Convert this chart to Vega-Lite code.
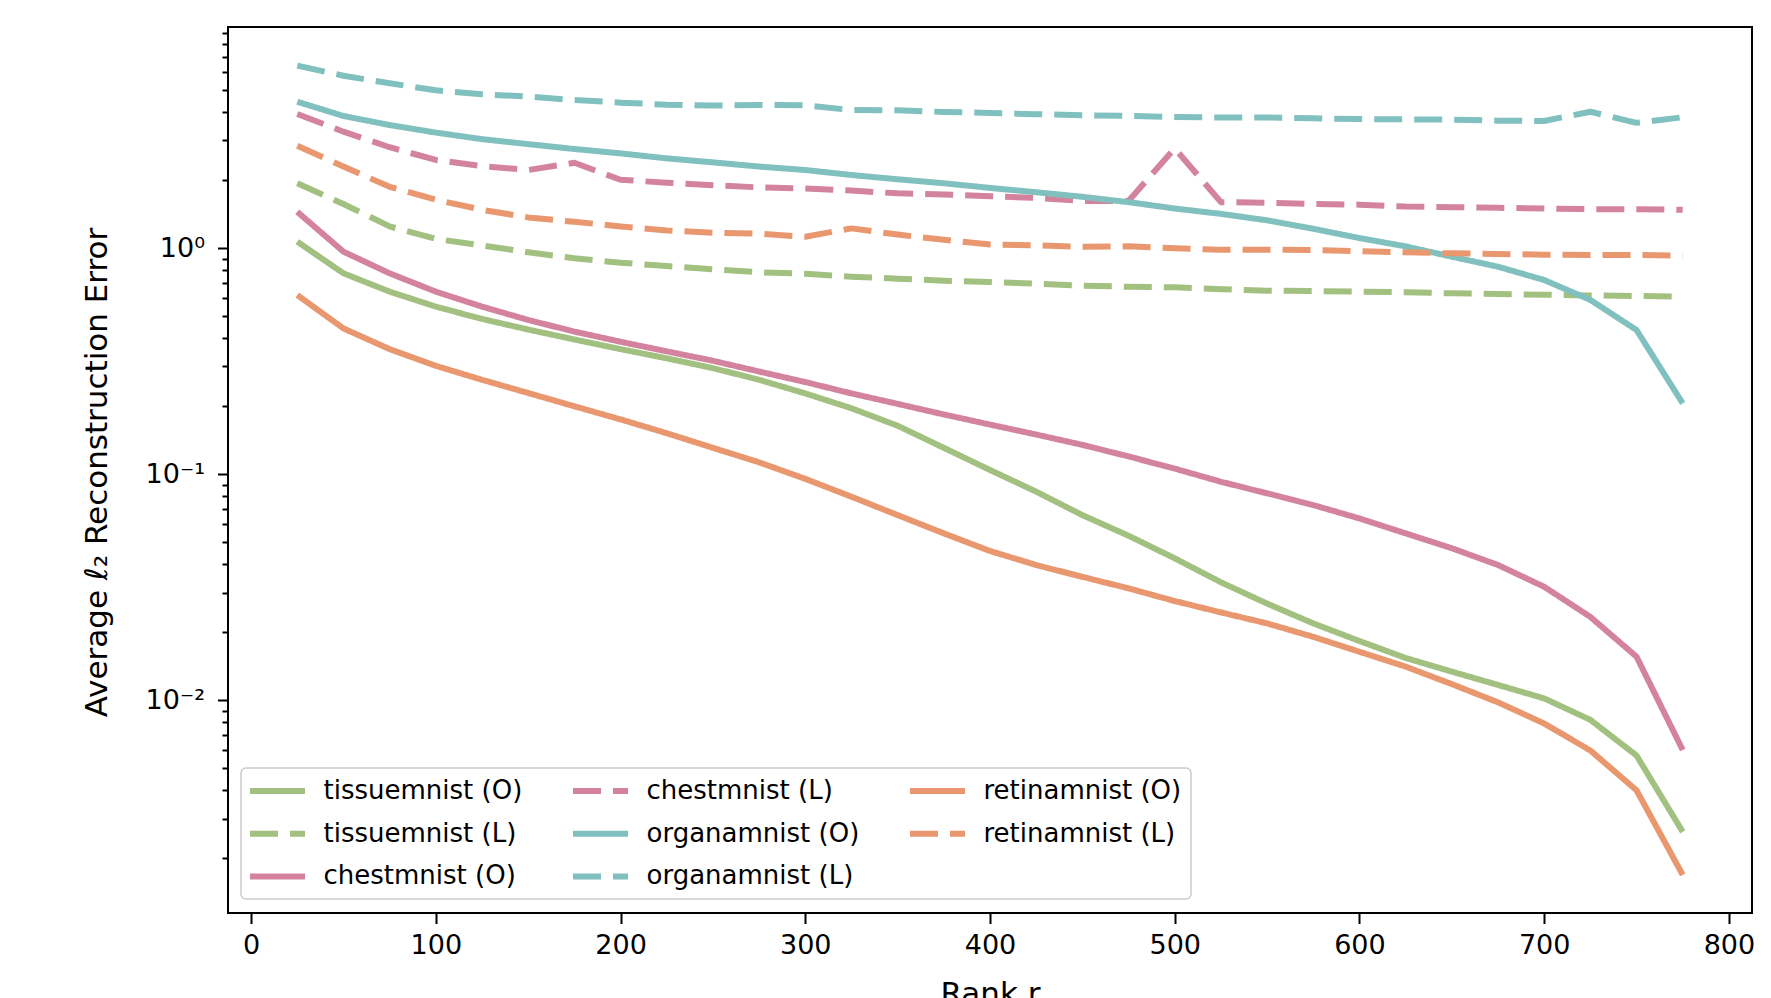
{
  "$schema": "https://vega.github.io/schema/vega-lite/v6.json",
  "autosize": {"type": "none"},
  "padding": {"left": 228, "top": 27, "right": 19, "bottom": 85},
  "width": 1524,
  "height": 886,
  "background": "white",
  "data": {"values": [
    {"r":25,"s":"tissuemnist (O)","e":1.07},{"r":50,"s":"tissuemnist (O)","e":0.775},{"r":75,"s":"tissuemnist (O)","e":0.643},{"r":100,"s":"tissuemnist (O)","e":0.552},{"r":125,"s":"tissuemnist (O)","e":0.487},{"r":150,"s":"tissuemnist (O)","e":0.437},{"r":175,"s":"tissuemnist (O)","e":0.395},{"r":200,"s":"tissuemnist (O)","e":0.358},{"r":225,"s":"tissuemnist (O)","e":0.326},{"r":250,"s":"tissuemnist (O)","e":0.295},{"r":275,"s":"tissuemnist (O)","e":0.262},{"r":300,"s":"tissuemnist (O)","e":0.228},{"r":325,"s":"tissuemnist (O)","e":0.196},{"r":350,"s":"tissuemnist (O)","e":0.164},{"r":375,"s":"tissuemnist (O)","e":0.131},{"r":400,"s":"tissuemnist (O)","e":0.1045},{"r":425,"s":"tissuemnist (O)","e":0.0838},{"r":450,"s":"tissuemnist (O)","e":0.066},{"r":475,"s":"tissuemnist (O)","e":0.0535},{"r":500,"s":"tissuemnist (O)","e":0.0425},{"r":525,"s":"tissuemnist (O)","e":0.0333},{"r":550,"s":"tissuemnist (O)","e":0.0268},{"r":575,"s":"tissuemnist (O)","e":0.0219},{"r":600,"s":"tissuemnist (O)","e":0.0183},{"r":625,"s":"tissuemnist (O)","e":0.0154},{"r":650,"s":"tissuemnist (O)","e":0.0134},{"r":675,"s":"tissuemnist (O)","e":0.0117},{"r":700,"s":"tissuemnist (O)","e":0.0102},{"r":725,"s":"tissuemnist (O)","e":0.0082},{"r":750,"s":"tissuemnist (O)","e":0.0057},{"r":775,"s":"tissuemnist (O)","e":0.00262},
    {"r":25,"s":"tissuemnist (L)","e":1.94},{"r":50,"s":"tissuemnist (L)","e":1.57},{"r":75,"s":"tissuemnist (L)","e":1.25},{"r":100,"s":"tissuemnist (L)","e":1.1},{"r":125,"s":"tissuemnist (L)","e":1.03},{"r":150,"s":"tissuemnist (L)","e":0.96},{"r":175,"s":"tissuemnist (L)","e":0.903},{"r":200,"s":"tissuemnist (L)","e":0.863},{"r":225,"s":"tissuemnist (L)","e":0.835},{"r":250,"s":"tissuemnist (L)","e":0.807},{"r":275,"s":"tissuemnist (L)","e":0.783},{"r":300,"s":"tissuemnist (L)","e":0.772},{"r":325,"s":"tissuemnist (L)","e":0.749},{"r":350,"s":"tissuemnist (L)","e":0.734},{"r":375,"s":"tissuemnist (L)","e":0.719},{"r":400,"s":"tissuemnist (L)","e":0.709},{"r":425,"s":"tissuemnist (L)","e":0.697},{"r":450,"s":"tissuemnist (L)","e":0.683},{"r":475,"s":"tissuemnist (L)","e":0.676},{"r":500,"s":"tissuemnist (L)","e":0.672},{"r":525,"s":"tissuemnist (L)","e":0.659},{"r":550,"s":"tissuemnist (L)","e":0.649},{"r":575,"s":"tissuemnist (L)","e":0.647},{"r":600,"s":"tissuemnist (L)","e":0.643},{"r":625,"s":"tissuemnist (L)","e":0.639},{"r":650,"s":"tissuemnist (L)","e":0.632},{"r":675,"s":"tissuemnist (L)","e":0.628},{"r":700,"s":"tissuemnist (L)","e":0.623},{"r":725,"s":"tissuemnist (L)","e":0.619},{"r":750,"s":"tissuemnist (L)","e":0.615},{"r":775,"s":"tissuemnist (L)","e":0.611},
    {"r":25,"s":"chestmnist (O)","e":1.45},{"r":50,"s":"chestmnist (O)","e":0.966},{"r":75,"s":"chestmnist (O)","e":0.775},{"r":100,"s":"chestmnist (O)","e":0.643},{"r":125,"s":"chestmnist (O)","e":0.552},{"r":150,"s":"chestmnist (O)","e":0.482},{"r":175,"s":"chestmnist (O)","e":0.428},{"r":200,"s":"chestmnist (O)","e":0.386},{"r":225,"s":"chestmnist (O)","e":0.35},{"r":250,"s":"chestmnist (O)","e":0.318},{"r":275,"s":"chestmnist (O)","e":0.285},{"r":300,"s":"chestmnist (O)","e":0.256},{"r":325,"s":"chestmnist (O)","e":0.228},{"r":350,"s":"chestmnist (O)","e":0.205},{"r":375,"s":"chestmnist (O)","e":0.184},{"r":400,"s":"chestmnist (O)","e":0.166},{"r":425,"s":"chestmnist (O)","e":0.15},{"r":450,"s":"chestmnist (O)","e":0.135},{"r":475,"s":"chestmnist (O)","e":0.12},{"r":500,"s":"chestmnist (O)","e":0.106},{"r":525,"s":"chestmnist (O)","e":0.0927},{"r":550,"s":"chestmnist (O)","e":0.0824},{"r":575,"s":"chestmnist (O)","e":0.0731},{"r":600,"s":"chestmnist (O)","e":0.0638},{"r":625,"s":"chestmnist (O)","e":0.0548},{"r":650,"s":"chestmnist (O)","e":0.0471},{"r":675,"s":"chestmnist (O)","e":0.0397},{"r":700,"s":"chestmnist (O)","e":0.0318},{"r":725,"s":"chestmnist (O)","e":0.0234},{"r":750,"s":"chestmnist (O)","e":0.0156},{"r":775,"s":"chestmnist (O)","e":0.00603},
    {"r":25,"s":"chestmnist (L)","e":3.93},{"r":50,"s":"chestmnist (L)","e":3.28},{"r":75,"s":"chestmnist (L)","e":2.8},{"r":100,"s":"chestmnist (L)","e":2.46},{"r":125,"s":"chestmnist (L)","e":2.31},{"r":150,"s":"chestmnist (L)","e":2.22},{"r":175,"s":"chestmnist (L)","e":2.39},{"r":200,"s":"chestmnist (L)","e":2.01},{"r":225,"s":"chestmnist (L)","e":1.95},{"r":250,"s":"chestmnist (L)","e":1.9},{"r":275,"s":"chestmnist (L)","e":1.86},{"r":300,"s":"chestmnist (L)","e":1.84},{"r":325,"s":"chestmnist (L)","e":1.8},{"r":350,"s":"chestmnist (L)","e":1.75},{"r":375,"s":"chestmnist (L)","e":1.73},{"r":400,"s":"chestmnist (L)","e":1.7},{"r":425,"s":"chestmnist (L)","e":1.67},{"r":450,"s":"chestmnist (L)","e":1.62},{"r":475,"s":"chestmnist (L)","e":1.62},{"r":500,"s":"chestmnist (L)","e":2.77},{"r":525,"s":"chestmnist (L)","e":1.6},{"r":550,"s":"chestmnist (L)","e":1.59},{"r":575,"s":"chestmnist (L)","e":1.57},{"r":600,"s":"chestmnist (L)","e":1.56},{"r":625,"s":"chestmnist (L)","e":1.53},{"r":650,"s":"chestmnist (L)","e":1.52},{"r":675,"s":"chestmnist (L)","e":1.51},{"r":700,"s":"chestmnist (L)","e":1.5},{"r":725,"s":"chestmnist (L)","e":1.49},{"r":750,"s":"chestmnist (L)","e":1.49},{"r":775,"s":"chestmnist (L)","e":1.48},
    {"r":25,"s":"organamnist (O)","e":4.45},{"r":50,"s":"organamnist (O)","e":3.85},{"r":75,"s":"organamnist (O)","e":3.51},{"r":100,"s":"organamnist (O)","e":3.25},{"r":125,"s":"organamnist (O)","e":3.04},{"r":150,"s":"organamnist (O)","e":2.89},{"r":175,"s":"organamnist (O)","e":2.75},{"r":200,"s":"organamnist (O)","e":2.63},{"r":225,"s":"organamnist (O)","e":2.5},{"r":250,"s":"organamnist (O)","e":2.4},{"r":275,"s":"organamnist (O)","e":2.3},{"r":300,"s":"organamnist (O)","e":2.22},{"r":325,"s":"organamnist (O)","e":2.11},{"r":350,"s":"organamnist (O)","e":2.02},{"r":375,"s":"organamnist (O)","e":1.94},{"r":400,"s":"organamnist (O)","e":1.85},{"r":425,"s":"organamnist (O)","e":1.77},{"r":450,"s":"organamnist (O)","e":1.69},{"r":475,"s":"organamnist (O)","e":1.6},{"r":500,"s":"organamnist (O)","e":1.5},{"r":525,"s":"organamnist (O)","e":1.42},{"r":550,"s":"organamnist (O)","e":1.33},{"r":575,"s":"organamnist (O)","e":1.22},{"r":600,"s":"organamnist (O)","e":1.11},{"r":625,"s":"organamnist (O)","e":1.02},{"r":650,"s":"organamnist (O)","e":0.918},{"r":675,"s":"organamnist (O)","e":0.829},{"r":700,"s":"organamnist (O)","e":0.724},{"r":725,"s":"organamnist (O)","e":0.591},{"r":750,"s":"organamnist (O)","e":0.435},{"r":775,"s":"organamnist (O)","e":0.206},
    {"r":25,"s":"organamnist (L)","e":6.43},{"r":50,"s":"organamnist (L)","e":5.8},{"r":75,"s":"organamnist (L)","e":5.37},{"r":100,"s":"organamnist (L)","e":5.0},{"r":125,"s":"organamnist (L)","e":4.8},{"r":150,"s":"organamnist (L)","e":4.69},{"r":175,"s":"organamnist (L)","e":4.53},{"r":200,"s":"organamnist (L)","e":4.41},{"r":225,"s":"organamnist (L)","e":4.32},{"r":250,"s":"organamnist (L)","e":4.28},{"r":275,"s":"organamnist (L)","e":4.31},{"r":300,"s":"organamnist (L)","e":4.29},{"r":325,"s":"organamnist (L)","e":4.09},{"r":350,"s":"organamnist (L)","e":4.08},{"r":375,"s":"organamnist (L)","e":4.01},{"r":400,"s":"organamnist (L)","e":3.97},{"r":425,"s":"organamnist (L)","e":3.92},{"r":450,"s":"organamnist (L)","e":3.88},{"r":475,"s":"organamnist (L)","e":3.85},{"r":500,"s":"organamnist (L)","e":3.81},{"r":525,"s":"organamnist (L)","e":3.79},{"r":550,"s":"organamnist (L)","e":3.79},{"r":575,"s":"organamnist (L)","e":3.76},{"r":600,"s":"organamnist (L)","e":3.73},{"r":625,"s":"organamnist (L)","e":3.72},{"r":650,"s":"organamnist (L)","e":3.71},{"r":675,"s":"organamnist (L)","e":3.67},{"r":700,"s":"organamnist (L)","e":3.66},{"r":725,"s":"organamnist (L)","e":4.02},{"r":750,"s":"organamnist (L)","e":3.59},{"r":775,"s":"organamnist (L)","e":3.8},
    {"r":25,"s":"retinamnist (O)","e":0.621},{"r":50,"s":"retinamnist (O)","e":0.442},{"r":75,"s":"retinamnist (O)","e":0.358},{"r":100,"s":"retinamnist (O)","e":0.302},{"r":125,"s":"retinamnist (O)","e":0.262},{"r":150,"s":"retinamnist (O)","e":0.229},{"r":175,"s":"retinamnist (O)","e":0.2},{"r":200,"s":"retinamnist (O)","e":0.175},{"r":225,"s":"retinamnist (O)","e":0.152},{"r":250,"s":"retinamnist (O)","e":0.131},{"r":275,"s":"retinamnist (O)","e":0.113},{"r":300,"s":"retinamnist (O)","e":0.0955},{"r":325,"s":"retinamnist (O)","e":0.0796},{"r":350,"s":"retinamnist (O)","e":0.066},{"r":375,"s":"retinamnist (O)","e":0.0548},{"r":400,"s":"retinamnist (O)","e":0.0458},{"r":425,"s":"retinamnist (O)","e":0.0397},{"r":450,"s":"retinamnist (O)","e":0.0352},{"r":475,"s":"retinamnist (O)","e":0.0313},{"r":500,"s":"retinamnist (O)","e":0.0275},{"r":525,"s":"retinamnist (O)","e":0.0245},{"r":550,"s":"retinamnist (O)","e":0.0219},{"r":575,"s":"retinamnist (O)","e":0.0191},{"r":600,"s":"retinamnist (O)","e":0.0164},{"r":625,"s":"retinamnist (O)","e":0.0141},{"r":650,"s":"retinamnist (O)","e":0.0118},{"r":675,"s":"retinamnist (O)","e":0.0098},{"r":700,"s":"retinamnist (O)","e":0.0079},{"r":725,"s":"retinamnist (O)","e":0.006},{"r":750,"s":"retinamnist (O)","e":0.004},{"r":775,"s":"retinamnist (O)","e":0.00169},
    {"r":25,"s":"retinamnist (L)","e":2.84},{"r":50,"s":"retinamnist (L)","e":2.3},{"r":75,"s":"retinamnist (L)","e":1.87},{"r":100,"s":"retinamnist (L)","e":1.64},{"r":125,"s":"retinamnist (L)","e":1.48},{"r":150,"s":"retinamnist (L)","e":1.37},{"r":175,"s":"retinamnist (L)","e":1.31},{"r":200,"s":"retinamnist (L)","e":1.25},{"r":225,"s":"retinamnist (L)","e":1.2},{"r":250,"s":"retinamnist (L)","e":1.17},{"r":275,"s":"retinamnist (L)","e":1.16},{"r":300,"s":"retinamnist (L)","e":1.125},{"r":325,"s":"retinamnist (L)","e":1.225},{"r":350,"s":"retinamnist (L)","e":1.15},{"r":375,"s":"retinamnist (L)","e":1.09},{"r":400,"s":"retinamnist (L)","e":1.04},{"r":425,"s":"retinamnist (L)","e":1.03},{"r":450,"s":"retinamnist (L)","e":1.016},{"r":475,"s":"retinamnist (L)","e":1.02},{"r":500,"s":"retinamnist (L)","e":1.0},{"r":525,"s":"retinamnist (L)","e":0.986},{"r":550,"s":"retinamnist (L)","e":0.986},{"r":575,"s":"retinamnist (L)","e":0.983},{"r":600,"s":"retinamnist (L)","e":0.97},{"r":625,"s":"retinamnist (L)","e":0.96},{"r":650,"s":"retinamnist (L)","e":0.95},{"r":675,"s":"retinamnist (L)","e":0.944},{"r":700,"s":"retinamnist (L)","e":0.937},{"r":725,"s":"retinamnist (L)","e":0.934},{"r":750,"s":"retinamnist (L)","e":0.934},{"r":775,"s":"retinamnist (L)","e":0.928}
  ]},
  "mark": {"type": "line", "strokeWidth": 6, "strokeJoin": "round", "clip": true},
  "encoding": {
    "x": {
      "field": "r", "type": "quantitative",
      "scale": {"domain": [-12.5, 812.5], "nice": false, "zero": false},
      "axis": {
        "values": [0, 100, 200, 300, 400, 500, 600, 700, 800],
        "tickSize": 10.5, "labelFontSize": 27, "labelPadding": 9,
        "labelFlush": false, "labelOverlap": false,
        "title": "Rank r", "titleFontSize": 31, "titleY": 66, "titleBaseline": "top"
      }
    },
    "y": {
      "field": "e", "type": "quantitative",
      "scale": {"type": "log", "domain": [0.001146, 9.53], "nice": false},
      "axis": {
        "values": [0.002,0.003,0.004,0.005,0.006,0.007,0.008,0.009,0.01,0.02,0.03,0.04,0.05,0.06,0.07,0.08,0.09,0.1,0.2,0.3,0.4,0.5,0.6,0.7,0.8,0.9,1,2,3,4,5,6,7,8,9],
        "labelExpr": "datum.value == 1 ? '10⁰' : datum.value == 0.1 ? '10⁻¹' : datum.value == 0.01 ? '10⁻²' : ''",
        "tickSize": {"condition": {"test": "datum.value == 1 || datum.value == 0.1 || datum.value == 0.01", "value": 10.5}, "value": 6},
        "labelFontSize": 27, "labelPadding": 13, "labelOverlap": false, "labelFlush": false,
        "title": "Average ℓ₂ Reconstruction Error", "titleFontSize": 31,
        "titleX": -131, "titleY": 445, "titleBaseline": "middle", "titleAlign": "center", "titleAngle": 270
      }
    },
    "color": {
      "field": "s", "type": "nominal",
      "scale": {
        "domain": ["tissuemnist (O)", "tissuemnist (L)", "chestmnist (O)", "chestmnist (L)", "organamnist (O)", "organamnist (L)", "retinamnist (O)", "retinamnist (L)"],
        "range": ["#a2c07f", "#a2c07f", "#d4839f", "#d4839f", "#80c0bf", "#80c0bf", "#e9976f", "#e9976f"]
      },
      "legend": {"title": null}
    },
    "strokeDash": {
      "field": "s", "type": "nominal",
      "scale": {
        "domain": ["tissuemnist (O)", "tissuemnist (L)", "chestmnist (O)", "chestmnist (L)", "organamnist (O)", "organamnist (L)", "retinamnist (O)", "retinamnist (L)"],
        "range": [[1, 0], [28, 12], [1, 0], [28, 12], [1, 0], [28, 12], [1, 0], [28, 12]]
      },
      "legend": {"title": null}
    }
  },
  "config": {
    "font": "DejaVu Sans",
    "view": {"stroke": "#000", "strokeWidth": 2},
    "axis": {
      "grid": false, "domain": false,
      "labelFont": "DejaVu Sans", "titleFont": "DejaVu Sans",
      "labelColor": "#000", "titleColor": "#000", "tickColor": "#000", "tickWidth": 2,
      "titleFontWeight": "normal"
    },
    "legend": {
      "orient": "none", "legendX": 13, "legendY": 741,
      "columns": 3, "padding": 9,
      "fillColor": "rgba(255,255,255,0.8)", "strokeColor": "#cccccc", "strokeWidth": 1.5, "cornerRadius": 5,
      "labelFont": "DejaVu Sans", "labelFontSize": 26, "labelColor": "#000", "labelLimit": 400,
      "symbolType": "M-2.5,0H2.5", "symbolSize": 484, "symbolStrokeWidth": 6,
      "symbolOffset": 13.5, "labelOffset": 32,
      "rowPadding": 15.7, "columnPadding": 38
    }
  }
}
